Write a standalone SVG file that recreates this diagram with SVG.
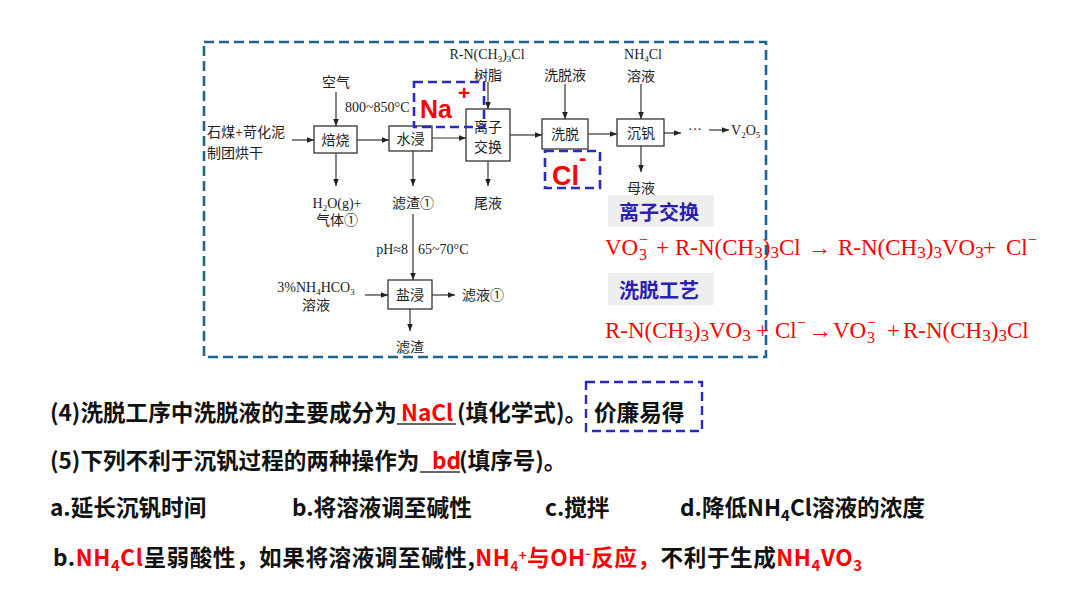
<svg xmlns="http://www.w3.org/2000/svg" width="1080" height="608" viewBox="0 0 1080 608">
<defs>
<marker id="ah" viewBox="0 0 10 10" refX="10" refY="5" markerWidth="7" markerHeight="7" orient="auto" markerUnits="userSpaceOnUse"><path d="M0,1 L10,5 L0,9 z" fill="#222"/></marker>
<style>
.d{font-family:"Liberation Serif","Noto Sans CJK SC",serif;font-size:14px;fill:#222}
.bx{fill:#fff;stroke:#333;stroke-width:1.3}
.ar{stroke:#333;stroke-width:1.2;fill:none;marker-end:url(#ah)}
.bd{fill:none;stroke:#2A2AC0;stroke-width:2.6;stroke-dasharray:9 5}
.ion{font-family:"Liberation Sans","Noto Sans CJK SC",sans-serif;font-weight:bold;fill:#FF0000}
.eq{font-family:"Liberation Serif",serif;font-size:23px;fill:#FF0000}
.es{font-family:"Liberation Serif",serif;font-size:16px;fill:#FF0000}
.lab{font-family:"Noto Sans CJK SC",sans-serif;font-weight:bold;font-size:20px;fill:#2B20B0}
.q{font-family:"Noto Sans CJK SC",sans-serif;font-weight:bold;font-size:22.6px;fill:#111}
.r{fill:#FF0000}
</style>
</defs>
<rect x="204" y="42" width="562" height="315" fill="none" stroke="#1F6391" stroke-width="2.6" stroke-dasharray="10 5"/>
<g id="connectors">
<line class="ar" x1="292" y1="140" x2="314" y2="140"/>
<line class="ar" x1="336" y1="92" x2="336" y2="126"/>
<line class="ar" x1="357" y1="140" x2="389" y2="140"/>
<line class="ar" x1="432" y1="138" x2="466" y2="138"/>
<line class="ar" x1="336" y1="153" x2="336" y2="186"/>
<line class="ar" x1="413" y1="151" x2="413" y2="186"/>
<line class="ar" x1="413" y1="214" x2="413" y2="280"/>
<line class="ar" x1="488" y1="161" x2="488" y2="186"/>
<line class="ar" x1="488" y1="82" x2="488" y2="109"/>
<line class="ar" x1="510" y1="135" x2="542" y2="135"/>
<line class="ar" x1="565" y1="84" x2="565" y2="119"/>
<line class="ar" x1="588" y1="134" x2="617" y2="134"/>
<line class="ar" x1="641" y1="84" x2="641" y2="119"/>
<line class="ar" x1="664" y1="133" x2="681" y2="133"/>
<line class="ar" x1="709" y1="130" x2="729" y2="130"/>
<line class="ar" x1="641" y1="146" x2="641" y2="172"/>
<line class="ar" x1="365" y1="295" x2="388" y2="295"/>
<line class="ar" x1="432" y1="295" x2="455" y2="295"/>
<line class="ar" x1="410" y1="309" x2="410" y2="331"/>
</g>
<g id="n-roast"><rect class="bx" x="314" y="126" width="43" height="27"/><text class="d" x="335.5" y="145" text-anchor="middle">焙烧</text></g>
<g id="n-water"><rect class="bx" x="389" y="126" width="43" height="25"/><text class="d" x="410.5" y="144" text-anchor="middle">水浸</text></g>
<g id="n-ionex"><rect class="bx" x="466" y="109" width="44" height="52"/><text class="d" x="488" y="132" text-anchor="middle">离子</text><text class="d" x="488" y="152" text-anchor="middle">交换</text></g>
<g id="n-elute"><rect class="bx" x="542" y="119" width="46" height="30"/><text class="d" x="565" y="139" text-anchor="middle">洗脱</text></g>
<g id="n-vprec"><rect class="bx" x="617" y="119" width="47" height="27"/><text class="d" x="641" y="138" text-anchor="middle">沉钒</text></g>
<g id="n-salt"><rect class="bx" x="388" y="280" width="44" height="29"/><text class="d" x="410" y="300" text-anchor="middle">盐浸</text></g>
<g id="labels">
<text class="d" x="207" y="137">石煤+苛化泥</text>
<text class="d" x="207" y="158">制团烘干</text>
<text class="d" x="336" y="87" text-anchor="middle">空气</text>
<text class="d" x="345" y="112">800~850°C</text>
<text class="d" x="337" y="208" text-anchor="middle">H<tspan font-size="9" dy="3">2</tspan><tspan dy="-3">O(g)+</tspan></text>
<text class="d" x="337" y="225" text-anchor="middle">气体①</text>
<text class="d" x="413" y="208" text-anchor="middle">滤渣①</text>
<text class="d" x="408" y="254" text-anchor="end">pH≈8</text>
<text class="d" x="418" y="254">65~70°C</text>
<text class="d" x="488" y="208" text-anchor="middle">尾液</text>
<text class="d" x="487" y="59" text-anchor="middle">R-N(CH<tspan font-size="9" dy="3">3</tspan><tspan dy="-3">)</tspan><tspan font-size="9" dy="3">3</tspan><tspan dy="-3">Cl</tspan></text>
<text class="d" x="488" y="80" text-anchor="middle">树脂</text>
<text class="d" x="565" y="80" text-anchor="middle">洗脱液</text>
<text class="d" x="643" y="59" text-anchor="middle">NH<tspan font-size="9" dy="3">4</tspan><tspan dy="-3">Cl</tspan></text>
<text class="d" x="641" y="81" text-anchor="middle">溶液</text>
<text class="d" x="695" y="134" text-anchor="middle">···</text>
<text class="d" x="731" y="135">V<tspan font-size="9" dy="3">2</tspan><tspan dy="-3">O</tspan><tspan font-size="9" dy="3">5</tspan></text>
<text class="d" x="641" y="193" text-anchor="middle">母液</text>
<text class="d" x="316" y="292" text-anchor="middle">3%NH<tspan font-size="9" dy="3">4</tspan><tspan dy="-3">HCO</tspan><tspan font-size="9" dy="3">3</tspan></text>
<text class="d" x="316" y="310" text-anchor="middle">溶液</text>
<text class="d" x="462" y="300">滤液①</text>
<text class="d" x="410" y="352" text-anchor="middle">滤渣</text>
</g>
<g id="na-box"><rect class="bd" x="414" y="82" width="70" height="45"/><text class="ion" x="420" y="118" font-size="25">Na</text><text class="ion" x="458" y="100" font-size="21">+</text></g>
<g id="cl-box"><rect class="bd" x="545" y="151" width="55" height="37"/><text class="ion" x="552" y="185" font-size="27">Cl</text><text class="ion" x="579" y="165" font-size="22">-</text></g>
<g id="ionex-label"><rect x="608" y="195" width="106" height="32" fill="#EEEEEE"/><text class="lab" x="619" y="220">离子交换</text></g>
<g id="elute-label"><rect x="608" y="273" width="106" height="32" fill="#EEEEEE"/><text class="lab" x="619" y="298">洗脱工艺</text></g>
<g id="eq1">
<text class="eq" x="605" y="255">VO</text><text class="es" x="639" y="260">3</text><text class="es" x="639" y="245">−</text>
<text class="eq" x="656" y="255">+</text>
<text class="eq" x="675" y="255">R-N(CH<tspan font-size="17" dy="3">3</tspan><tspan dy="-3">)</tspan><tspan font-size="17" dy="3">3</tspan><tspan dy="-3">Cl</tspan></text>
<text class="eq" x="808" y="255" textLength="23" lengthAdjust="spacingAndGlyphs">→</text>
<text class="eq" x="838" y="255">R-N(CH<tspan font-size="17" dy="3">3</tspan><tspan dy="-3">)</tspan><tspan font-size="17" dy="3">3</tspan><tspan dy="-3">VO</tspan><tspan font-size="17" dy="3">3</tspan></text>
<text class="eq" x="983" y="255">+</text>
<text class="eq" x="1006" y="255">Cl</text><text class="es" x="1028" y="245">−</text>
</g>
<g id="eq2">
<text class="eq" x="605" y="338">R-N(CH<tspan font-size="17" dy="3">3</tspan><tspan dy="-3">)</tspan><tspan font-size="17" dy="3">3</tspan><tspan dy="-3">VO</tspan><tspan font-size="17" dy="3">3</tspan></text>
<text class="eq" x="756" y="338">+</text>
<text class="eq" x="775" y="338">Cl</text><text class="es" x="797" y="328">−</text>
<text class="eq" x="808" y="338" textLength="24" lengthAdjust="spacingAndGlyphs">→</text>
<text class="eq" x="833" y="338">VO</text><text class="es" x="867" y="343">3</text><text class="es" x="867" y="328">−</text>
<text class="eq" x="887" y="338">+</text>
<text class="eq" x="903" y="338">R-N(CH<tspan font-size="17" dy="3">3</tspan><tspan dy="-3">)</tspan><tspan font-size="17" dy="3">3</tspan><tspan dy="-3">Cl</tspan></text>
</g>
<g id="questions">
<text class="q" x="50" y="421">(4)洗脱工序中洗脱液的主要成分为</text>
<line x1="397" y1="424" x2="456" y2="424" stroke="#333" stroke-width="1.3"/>
<text class="q r" x="401" y="421">NaCl</text>
<text class="q" x="457" y="421">(填化学式)。</text>
<rect x="586" y="382" width="116" height="49" fill="none" stroke="#2A2AC0" stroke-width="2.4" stroke-dasharray="9 5"/>
<text class="q" x="594" y="421">价廉易得</text>
<text class="q" x="50" y="469">(5)下列不利于沉钒过程的两种操作为</text>
<line x1="420" y1="472" x2="460" y2="472" stroke="#333" stroke-width="1.3"/>
<text class="q r" x="432" y="469">bd</text>
<text class="q" x="459" y="469">(填序号)。</text>
<text class="q" x="50" y="516">a.延长沉钒时间</text>
<text class="q" x="292" y="516">b.将溶液调至碱性</text>
<text class="q" x="545" y="516">c.搅拌</text>
<text class="q" x="680" y="516">d.降低NH<tspan font-size="15" dy="5">4</tspan><tspan dy="-5">Cl溶液的浓度</tspan></text>
<text class="q" x="53" y="566" textLength="809">b.<tspan class="r">NH</tspan><tspan class="r" font-size="15" dy="5">4</tspan><tspan class="r" dy="-5">Cl</tspan>呈弱酸性，如果将溶液调至碱性,<tspan class="r">NH</tspan><tspan class="r" font-size="13" dy="5">4</tspan><tspan class="r" font-size="13" dy="-11">+</tspan><tspan class="r" dy="6">与OH</tspan><tspan class="r" font-size="13" dy="-8">-</tspan><tspan class="r" dy="8">反应，</tspan>不利于生成<tspan class="r">NH</tspan><tspan class="r" font-size="15" dy="5">4</tspan><tspan class="r" dy="-5">VO</tspan><tspan class="r" font-size="15" dy="5">3</tspan></text>
</g>
</svg>
